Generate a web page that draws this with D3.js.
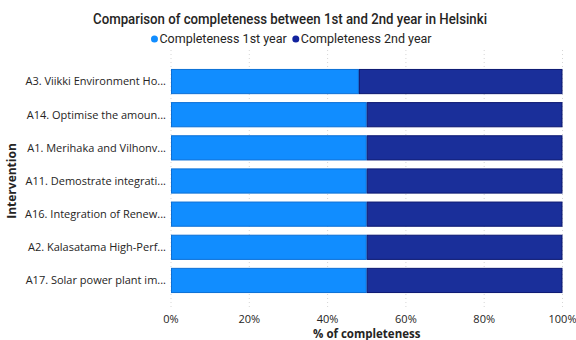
<!DOCTYPE html>
<html>
<head>
<meta charset="utf-8">
<script src="https://cdn.jsdelivr.net/npm/d3@7"></script>
<style>
  body { margin: 0; background: #fff; }
  svg { display: block; }
</style>
</head>
<body>
<svg id="chart" width="576" height="340"></svg>
<script>
// categories, top to bottom
const interventions = [
  'A3. Viikki Environment Ho...',
  'A14. Optimise the amoun...',
  'A1. Merihaka and Vilhonv...',
  'A11. Demostrate integrati...',
  'A16. Integration of Renew...',
  'A2. Kalasatama High-Perf...',
  'A17. Solar power plant im...'
];
const firstYear = [48, 50, 50, 50, 50, 50, 50];
const secondYear = [52, 50, 50, 50, 50, 50, 50];
const xTicks = [0, 20, 40, 60, 80, 100];
const seriesNames = ['Completeness 1st year', 'Completeness 2nd year'];

const fills = ['#118DFF', '#1A2F9A'];
const strokes = ['#0B6FD6', '#0A1670'];
const dotColors = ['#118DFF', '#12239E'];

const svg = d3.select('#chart');
const plotLeft = 171, plotRight = 562.5, plotTop = 61, plotBottom = 301;

let x = d3.scaleLinear().domain([0, 100]).range([plotLeft, plotRight]);
let y = d3.scaleBand().domain(interventions).range([plotTop, plotBottom]).padding(0.24);

// gridlines
svg.append('g')
  .selectAll('line')
  .data(xTicks)
  .join('line')
  .attr('x1', d => x(d)).attr('x2', d => x(d))
  .attr('y1', 50).attr('y2', 310)
  .attr('stroke', '#d6d6d6')
  .attr('stroke-dasharray', '1,3');

// stacked bars
let rows = interventions.map((name, i) => ({ name, a: firstYear[i], b: secondYear[i] }));
let stack = d3.stack().keys(['a', 'b'])(rows);

stack.forEach((layer, k) => {
  svg.append('g')
    .selectAll('rect')
    .data(layer)
    .join('rect')
    .attr('x', d => x(d[0]) + 0.5)
    .attr('y', d => y(d.data.name) + 0.5)
    .attr('width', d => x(d[1]) - x(d[0]) - 1)
    .attr('height', y.bandwidth() - 1)
    .attr('fill', fills[k])
    .attr('stroke', strokes[k])
    .attr('stroke-width', 1);
});

// y labels
svg.append('g')
  .selectAll('text')
  .data(interventions)
  .join('text')
  .attr('x', 166)
  .attr('y', d => y(d) + y.bandwidth() / 2)
  .attr('dy', '0.35em')
  .attr('text-anchor', 'end')
  .attr('font-family', 'Open Sans, sans-serif')
  .attr('font-size', 11)
  .attr('fill', '#252423')
  .text(d => d);

// x tick labels
svg.append('g')
  .selectAll('text')
  .data(xTicks)
  .join('text')
  .attr('x', d => x(d))
  .attr('y', 323)
  .attr('text-anchor', 'middle')
  .attr('font-family', 'Open Sans, sans-serif')
  .attr('font-size', 11)
  .attr('fill', '#252423')
  .text(d => d + '%');

// axis titles
svg.append('text')
  .attr('x', (plotLeft + plotRight) / 2)
  .attr('y', 338)
  .attr('text-anchor', 'middle')
  .attr('font-family', 'Open Sans, sans-serif')
  .attr('font-weight', 'bold')
  .attr('font-size', 11.5)
  .attr('fill', '#252423')
  .text('% of completeness');

svg.append('text')
  .attr('transform', `translate(16,${(plotTop + plotBottom) / 2}) rotate(-90)`)
  .attr('text-anchor', 'middle')
  .attr('font-family', 'Open Sans, sans-serif')
  .attr('font-weight', 'bold')
  .attr('font-size', 12)
  .attr('fill', '#252423')
  .text('Intervention');

// title
svg.append('text')
  .attr('x', 290)
  .attr('y', 24)
  .attr('text-anchor', 'middle')
  .attr('font-family', 'Roboto, sans-serif')
  .attr('font-weight', 500)
  .attr('font-size', 14)
  .attr('textLength', 394)
  .attr('lengthAdjust', 'spacingAndGlyphs')
  .attr('fill', '#252423')
  .text('Comparison of completeness between 1st and 2nd year in Helsinki');

// legend, centred under the title
let legend = svg.append('g').attr('font-family', 'Roboto, sans-serif').attr('font-size', 12.5);
let items = seriesNames.map((name, i) => {
  let g = legend.append('g');
  g.append('circle').attr('cx', 0).attr('cy', 39).attr('r', 3.5).attr('fill', dotColors[i]);
  let t = g.append('text').attr('x', 5).attr('y', 39).attr('dy', '0.35em').attr('fill', '#252423').text(name);
  return { g, w: 5 + t.node().getComputedTextLength() };
});
let total = d3.sum(items, d => d.w) + 9;
let lx = 290 - total / 2 + 3;
items.forEach(it => {
  it.g.attr('transform', `translate(${lx},0)`);
  lx += it.w + 9;
});
</script>
</body>
</html>
